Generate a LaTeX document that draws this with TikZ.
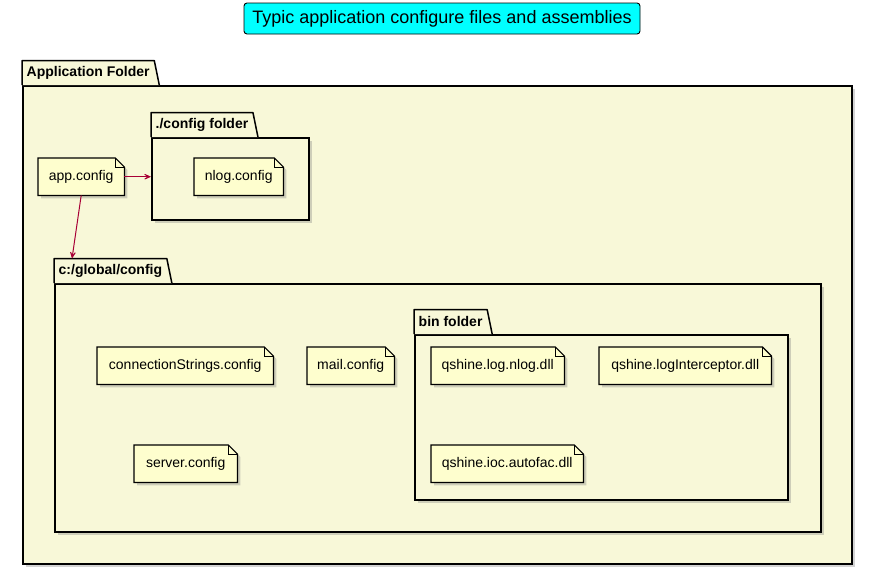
\documentclass[tikz,border=0pt]{standalone}
\usepackage{fontspec}
\setmainfont{Liberation Sans}
\usepackage{xcolor}
\usepackage{tikz}
\usetikzlibrary{arrows.meta}
\usetikzlibrary{positioning}
\usetikzlibrary{shadows}
\definecolor{notefill}{HTML}{FEFECE}
\definecolor{dirfill}{HTML}{F8F8D8}
\definecolor{linkred}{HTML}{A80036}
\definecolor{titlefill}{HTML}{00FFFF}
\pgfdeclarelayer{dirs}
\pgfdeclarelayer{papers}
\pgfsetlayers{dirs,papers,main}

\begin{document}
\begin{tikzpicture}[x=1pt, y=-1pt,
    soft shadow/.style={drop shadow={shadow xshift=3pt, shadow yshift=-3pt, opacity=0.35}},
    dir/.style={draw, line width=1.5pt, fill=dirfill, anchor=north west, inner sep=0pt, soft shadow},
    dirtab/.style={draw, line width=1.5pt, fill=dirfill, line join=round},
    dirname/.style={anchor=south west, inner xsep=4.5pt, inner ysep=0pt, minimum height=24pt, font=\bfseries\fontsize{14}{16}\selectfont},
    doc/.style={anchor=north west, inner sep=0pt, minimum height=37pt, font=\fontsize{14}{16}\selectfont},
    paper/.style={draw, line width=1.2pt, fill=notefill, soft shadow},
    link/.style={draw=linkred, line width=1pt, -{Stealth[length=11pt, width=10pt, inset=7.5pt]}}]

    \useasboundingbox (0,0) rectangle (872,574);

    \node [draw, line width=0.9pt, rounded corners=3pt, fill=titlefill, minimum width=396pt, minimum height=31pt,
      font=\fontsize{18}{20}\selectfont] (title) at (442,18.5) {Typic application configure files and assemblies};

    % folders
    \begin{pgfonlayer}{dirs}
      \node [dir, minimum width=829pt, minimum height=478pt] (appdir) at (22,85) {};
      \node [dir, minimum width=157pt, minimum height=82pt] (cfgdir) at (151,137) {};
      \node [dir, minimum width=766pt, minimum height=248pt] (globaldir) at (54,283) {};
      \node [dir, minimum width=373pt, minimum height=165pt] (bindir) at (414,334) {};
    \end{pgfonlayer}
    \node [dirname] (apptab) at (appdir.north west) {Application Folder};
    \node [dirname] (cfgtab) at (cfgdir.north west) {./config folder};
    \node [dirname] (globaltab) at (globaldir.north west) {c:/global/config};
    \node [dirname] (bintab) at (bindir.north west) {bin folder};
    \begin{pgfonlayer}{dirs}
      \foreach \t in {apptab, cfgtab, globaltab, bintab}
        \draw [dirtab] (\t.south west) -- (\t.north west) -- (\t.north east) -- ([xshift=5pt]\t.south east);
    \end{pgfonlayer}

    % files
    \node [doc, minimum width=86pt] (app) at (38,158) {app.config};
    \node [doc, minimum width=89pt] (nlog) at (194,158) {nlog.config};
    \node [doc, minimum width=176pt] (connstr) at (97,347) {connectionStrings.config};
    \node [doc, minimum width=87pt] (mail) at (307,347) {mail.config};
    \node [doc, minimum width=103pt] (server) at (134,445) {server.config};
    \node [doc, minimum width=133pt] (lognlog) at (431,347) {qshine.log.nlog.dll};
    \node [doc, minimum width=172pt] (logicpt) at (599,347) {qshine.logInterceptor.dll};
    \node [doc, minimum width=152pt] (autofac) at (431,445) {qshine.ioc.autofac.dll};

    \begin{pgfonlayer}{papers}
      \foreach \n in {app, nlog, connstr, mail, server, lognlog, logicpt, autofac} {
        \draw [paper] (\n.north west) -- ([xshift=-9pt]\n.north east) -- ([yshift=-9pt]\n.north east)
          -- (\n.south east) -- (\n.south west) -- cycle;
        \draw [line width=1pt] ([xshift=-9pt]\n.north east) -- ([xshift=-9pt, yshift=-9pt]\n.north east)
          -- ([yshift=-9pt]\n.north east);
      }
    \end{pgfonlayer}

    \draw [link] (app.east) -- (cfgdir.west |- app.east);
    \draw [link] (app.south) -- ([xshift=18pt]globaltab.north west);

  \end{tikzpicture}
\end{document}
